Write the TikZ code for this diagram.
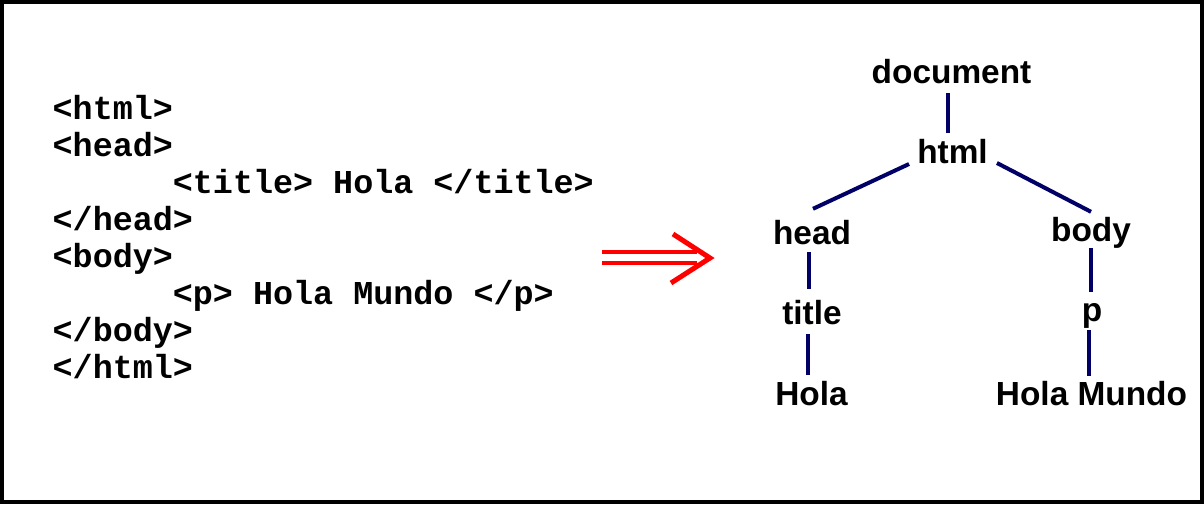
\documentclass[tikz,border=0pt]{standalone}
\usepackage{fontspec}
\setmainfont{Liberation Sans}
\newfontfamily\codefont{Liberation Mono}
\definecolor{navyline}{RGB}{0,0,102}
\begin{document}
\begin{tikzpicture}[x=1pt,y=1pt,
  codeline/.style={anchor=base west,inner sep=0pt,font=\codefont\bfseries\fontsize{33.4}{37}\selectfont},
  treenode/.style={anchor=base,inner sep=0pt,text height=23pt,text depth=0pt,font=\bfseries\fontsize{33.4}{37}\selectfont},
  link/.style={draw=navyline,line width=4pt},
  bigarrow/.style={draw=red,line width=4pt}]
\useasboundingbox (0,0) rectangle (1204,-504);
\draw[line width=4pt] (2,-1.5) rectangle (1201.5,-502);
% code
\node[codeline] (c1) at (52.5,-119) {<html>};
\node[codeline] (c2) at (52.5,-156) {<head>};
\node[codeline] (c3) at (172.7,-193) {<title> Hola </title>};
\node[codeline] (c4) at (52.5,-230) {</head>};
\node[codeline] (c5) at (52.5,-267) {<body>};
\node[codeline] (c6) at (172.7,-304) {<p> Hola Mundo </p>};
\node[codeline] (c7) at (52.5,-341) {</body>};
\node[codeline] (c8) at (52.5,-378) {</html>};
% arrow
\draw[bigarrow] (602,-252) -- (697,-252);
\draw[bigarrow] (602,-263) -- (697,-263);
\draw[draw=red,line width=5pt] (673,-234) -- (710,-258) -- (671,-283);
% tree
\node[treenode] (doc) at (951.5,-83) {document};
\node[treenode] (html) at (952.5,-163) {html};
\node[treenode] (head) at (812,-244) {head};
\node[treenode] (body) at (1091,-241) {body};
\node[treenode] (title) at (812,-324) {title};
\node[treenode] (p) at (1092,-321) {p};
\node[treenode] (hola) at (811.5,-405) {Hola};
\node[treenode] (mundo) at (1091.5,-405) {Hola Mundo};
\draw[link] ([xshift=-3.5pt,yshift=-10pt]doc.south) -- ([xshift=-4.5pt,yshift=7pt]html.north);
\draw[link] ([xshift=-8pt,yshift=-1pt]html.base west) -- ([xshift=1pt,yshift=12pt]head.north);
\draw[link] ([xshift=9pt]html.base east) -- ([yshift=6pt]body.north);
\draw[link] ([xshift=-3pt,yshift=-8pt]head.south) -- ([xshift=-3pt,yshift=12pt]title.north);
\draw[link] ([xshift=-4pt,yshift=-10pt]title.south) -- ([xshift=-3.5pt,yshift=7pt]hola.north);
\draw[link] ([yshift=-7pt]body.south) -- ([xshift=-1pt,yshift=6pt]p.north);
\draw[link] ([xshift=-3pt,yshift=-9pt]p.south) -- ([xshift=-2.5pt,yshift=6pt]mundo.north);
\end{tikzpicture}
\end{document}
